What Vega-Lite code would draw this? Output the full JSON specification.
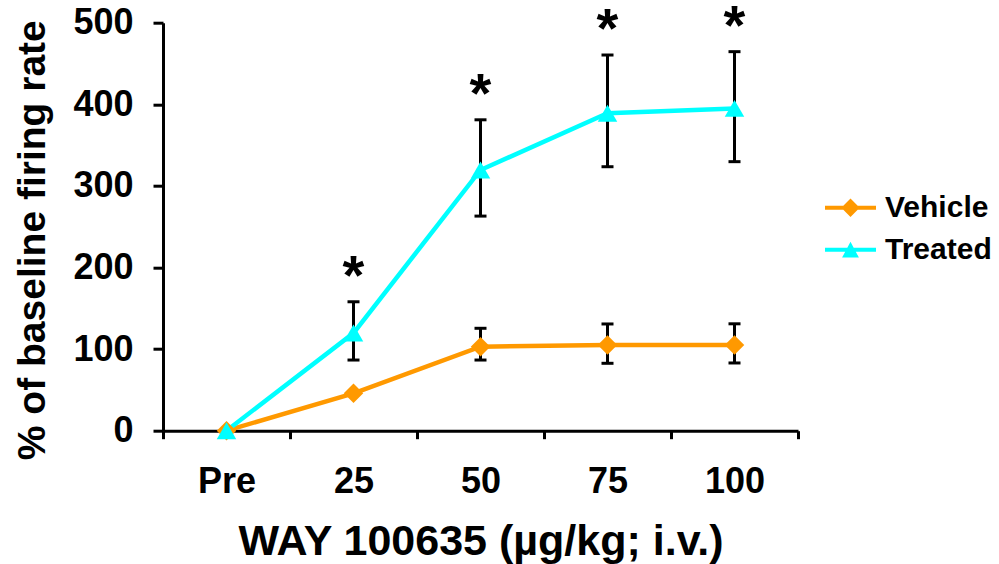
{
  "$schema": "https://vega.github.io/schema/vega-lite/v6.json",
  "width": 635,
  "height": 408,
  "autosize": "none",
  "padding": {"left": 163, "top": 22.7, "right": 201, "bottom": 133.3},
  "background": "white",
  "config": {
    "view": {"stroke": null},
    "font": "Liberation Sans",
    "axis": {
      "domainColor": "black", "domainWidth": 3, "tickColor": "black", "tickWidth": 3,
      "labelColor": "black", "labelFont": "Liberation Sans", "labelFontWeight": "bold",
      "titleColor": "black", "titleFont": "Liberation Sans", "titleFontWeight": "bold",
      "grid": false
    },
    "legend": {
      "title": null, "orient": "none", "legendX": 662, "legendY": 168,
      "padding": 0, "symbolSize": 2601, "clipHeight": 34, "rowPadding": 8,
      "labelFontSize": 30, "labelFont": "Liberation Sans", "labelFontWeight": "bold",
      "labelColor": "black", "labelOffset": 9, "symbolStrokeWidth": 0, "symbolOpacity": 1
    }
  },
  "data": {
    "values": [
      {"dose": "Pre", "group": "Vehicle", "mean": 0, "lo": null, "hi": null, "sig": false},
      {"dose": "25", "group": "Vehicle", "mean": 45.8, "lo": null, "hi": null, "sig": false},
      {"dose": "50", "group": "Vehicle", "mean": 103, "lo": 86.6, "hi": 125.5, "sig": false},
      {"dose": "75", "group": "Vehicle", "mean": 105, "lo": 82.6, "hi": 130.8, "sig": false},
      {"dose": "100", "group": "Vehicle", "mean": 105, "lo": 83, "hi": 131, "sig": false},
      {"dose": "Pre", "group": "Treated", "mean": 0, "lo": null, "hi": null, "sig": false},
      {"dose": "25", "group": "Treated", "mean": 119.7, "lo": 86.6, "hi": 158, "sig": true},
      {"dose": "50", "group": "Treated", "mean": 319.5, "lo": 263, "hi": 381, "sig": true},
      {"dose": "75", "group": "Treated", "mean": 389, "lo": 323.5, "hi": 460.4, "sig": true},
      {"dose": "100", "group": "Treated", "mean": 395, "lo": 329.7, "hi": 464.5, "sig": true}
    ]
  },
  "encoding": {
    "x": {
      "field": "dose", "type": "nominal",
      "scale": {"domain": ["Pre", "25", "50", "75", "100"], "paddingInner": 0, "paddingOuter": 0},
      "axis": {
        "title": "WAY 100635 (µg/kg; i.v.)", "titleFontSize": 43, "titlePadding": 21,
        "labelFontSize": 36, "labelAngle": 0, "labelPadding": 26, "tickSize": 8,
        "tickBand": "extent"
      }
    },
    "y": {"field": "mean", "type": "quantitative",
      "scale": {"domain": [0, 500], "nice": false},
      "axis": {
        "title": "% of baseline firing rate", "titleFontSize": 39, "titlePadding": 20,
        "titleY": 217,
        "labelFontSize": 36, "labelPadding": 20, "tickSize": 10,
        "values": [0, 100, 200, 300, 400, 500]
      }}
  },
  "layer": [
    {
      "transform": [{"filter": "datum.lo != null"}],
      "mark": {"type": "rule", "color": "black", "strokeWidth": 3},
      "encoding": {
        "y": {"field": "lo", "type": "quantitative"},
        "y2": {"field": "hi"}
      }
    },
    {
      "transform": [{"filter": "datum.lo != null"}],
      "mark": {"type": "tick", "color": "black", "size": 12, "thickness": 3, "opacity": 1},
      "encoding": {"y": {"field": "lo", "type": "quantitative"}}
    },
    {
      "transform": [{"filter": "datum.hi != null"}],
      "mark": {"type": "tick", "color": "black", "size": 12, "thickness": 3, "opacity": 1},
      "encoding": {"y": {"field": "hi", "type": "quantitative"}}
    },
    {
      "mark": {"type": "point", "filled": true, "opacity": 0, "size": 2601},
      "encoding": {
        "color": {"field": "group", "type": "nominal",
          "scale": {"domain": ["Vehicle", "Treated"], "range": ["#FF9900", "#00FFFF"]}},
        "shape": {"field": "group", "type": "nominal",
          "scale": {"domain": ["Vehicle", "Treated"],
            "range": ["M-1,-0.08H1V0.08H-1Z M0,-0.36L0.36,0L0,0.36L-0.36,0Z", "M-1,-0.08H1V0.08H-1Z M0,-0.31L0.33,0.31L-0.33,0.31Z"]}}
      }
    },
    {
      "mark": {"type": "line", "strokeWidth": 4.5},
      "encoding": {
        "color": {"field": "group", "type": "nominal"}
      }
    },
    {
      "transform": [{"filter": "datum.group === 'Vehicle'"}],
      "mark": {"type": "point", "filled": true, "opacity": 1, "size": 380, "shape": "diamond"},
      "encoding": {
        "color": {"field": "group", "type": "nominal"}
      }
    },
    {
      "transform": [{"filter": "datum.group === 'Treated'"}],
      "mark": {"type": "point", "filled": true, "opacity": 1, "size": 380, "shape": "triangle-up"},
      "encoding": {
        "color": {"field": "group", "type": "nominal"}
      }
    },
    {
      "transform": [{"filter": "datum.sig"}],
      "mark": {"type": "text", "text": "*", "fontSize": 56, "fontWeight": "bold", "color": "black", "baseline": "alphabetic", "dy": -8},
      "encoding": {"y": {"field": "hi", "type": "quantitative"}}
    }
  ]
}
